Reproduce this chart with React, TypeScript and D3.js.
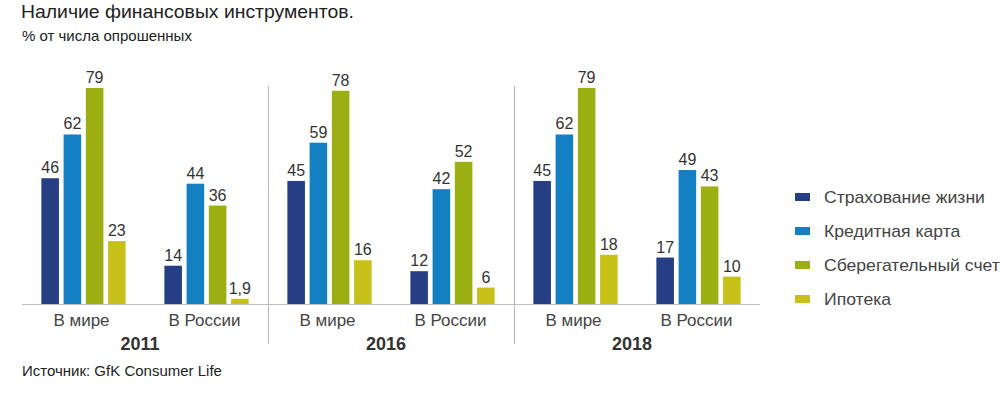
import React from "react";
import * as d3 from "d3";

const years = ["2011", "2016", "2018"];
const regions = ["В мире", "В России"];
const seriesNames = ["Страхование жизни", "Кредитная карта", "Сберегательный счет", "Ипотека"];
const seriesColors = ["#263f84", "#1480c4", "#9bae12", "#c6c018"];
// values per [year][region][series]
const values2011 = [[46, 62, 79, 23], [14, 44, 36, 1.9]];
const values2016 = [[45, 59, 78, 16], [12, 42, 52, 6]];
const values2018 = [[45, 62, 79, 18], [17, 49, 43, 10]];
const valuesByYear = [values2011, values2016, values2018];

const fmt = (v: number) => String(v).replace(".", ",");

export default function App() {
  const W = 1000, H = 398;
  const baseY = 304;
  const font = "Arial, 'Liberation Sans', sans-serif";

  const groups: { key: string; year: number; region: number }[] = [];
  years.forEach((y, yi) => regions.forEach((r, ri) => groups.push({ key: `${y}-${ri}`, year: yi, region: ri })));

  const x0 = d3.scaleBand<string>().domain(groups.map((g) => g.key)).range([22, 760]).paddingInner(0.315).paddingOuter(0.1575);
  const x1 = d3.scaleBand<string>().domain(seriesNames).range([0, x0.bandwidth()]).paddingInner(0.21);
  const y = d3.scaleLinear().domain([0, 79]).range([baseY, 88]);

  const center = (k: string) => (x0(k) as number) + x0.bandwidth() / 2;

  return (
    <svg width={W} height={H} style={{ position: "absolute", left: 0, top: 0, background: "#fff" }} fontFamily={font}>
      <rect x={0} y={0} width={W} height={H} fill="#fff" />
      <text x={21} y={18.5} fontSize={19} fill="#222" transform="translate(21,0) scale(1.02,1) translate(-21,0)">Наличие финансовых инструментов.</text>
      <text x={22} y={41} fontSize={15} fill="#222">% от числа опрошенных</text>

      {/* separators */}
      {[1, 2].map((i) => {
        const a = center(groups[i * 2 - 1].key);
        const b = center(groups[i * 2].key);
        const sx = Math.round((a + b) / 2) + 0.5;
        return <line key={i} x1={sx} x2={sx} y1={86} y2={344} stroke="#b8b8b8" strokeWidth={1} />;
      })}

      {/* baseline */}
      <line x1={22} x2={760} y1={baseY + 0.5} y2={baseY + 0.5} stroke="#bdbdbd" strokeWidth={1.2} />

      {groups.map((g) => {
        const vals = valuesByYear[g.year][g.region];
        const gx = x0(g.key) as number;
        return (
          <g key={g.key} transform={`translate(${gx},0)`}>
            {vals.map((v, si) => {
              const bx = x1(seriesNames[si]) as number;
              return (
                <g key={si}>
                  <rect x={bx} y={y(v)} width={x1.bandwidth()} height={baseY - y(v)} fill={seriesColors[si]} />
                  <text x={bx + x1.bandwidth() / 2} y={y(v) - 5} textAnchor="middle" fontSize={16} fill="#333">
                    {fmt(v)}
                  </text>
                </g>
              );
            })}
            <text x={x0.bandwidth() / 2 - 2} y={326} textAnchor="middle" fontSize={17} fill="#444">
              {regions[g.region]}
            </text>
          </g>
        );
      })}

      {years.map((yr, yi) => {
        const cx = (center(groups[yi * 2].key) + center(groups[yi * 2 + 1].key)) / 2 - 5;
        return (
          <text key={yr} x={cx} y={350} textAnchor="middle" fontSize={18} fontWeight="bold" fill="#333">
            {yr}
          </text>
        );
      })}

      {/* legend */}
      {seriesNames.map((s, i) => (
        <g key={s} transform={`translate(795,${197 + i * 34})`}>
          <rect x={0} y={-4} width={15} height={8} fill={seriesColors[i]} />
          <text x={0} y={6} fontSize={16} fill="#444" transform="translate(29,0) scale(1.1,1)">{s}</text>
        </g>
      ))}

      <text x={22} y={376} fontSize={15} fill="#222">Источник: GfK Consumer Life</text>
    </svg>
  );
}
